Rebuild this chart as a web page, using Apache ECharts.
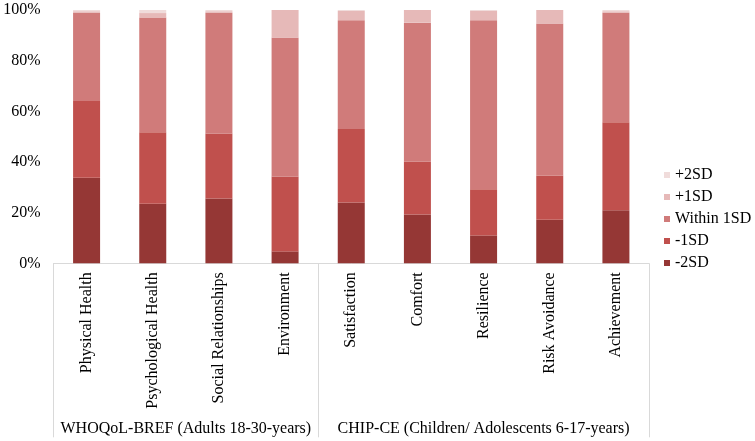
<!DOCTYPE html>
<html>
<head>
<meta charset="utf-8">
<script src="https://cdn.jsdelivr.net/npm/echarts@6/dist/echarts.min.js"></script>
<style>html,body{margin:0;padding:0;background:#fff}#c{width:755px;height:441px}</style>
</head>
<body>
<div id="c"></div>
<script>
const categories = ['Physical Health','Psychological Health','Social Relationships','Environment','Satisfaction','Comfort','Resilience','Risk Avoidance','Achievement'];
const groupNames = ['WHOQoL-BREF (Adults 18-30-years)','CHIP-CE (Children/ Adolescents 6-17-years)'];
const groupCenters = [2, 6.5];
const groupBounds = [0, 4, 9];
const minus2SD = [33.8, 23.5, 25.6, 4.7, 24.0, 19.3, 11.0, 17.2, 20.9];
const minus1SD = [30.3, 28.2, 25.6, 29.6, 29.0, 20.9, 18.2, 17.4, 34.8];
const within1SD = [34.8, 45.3, 47.7, 54.7, 43.0, 54.8, 66.8, 60.1, 43.2];
const plus1SD = [0.6, 1.8, 0.6, 11.0, 3.6, 5.0, 3.6, 5.3, 0.6];
const plus2SD = [0.5, 1.2, 0.5, 0, 0.4, 0, 0.4, 0, 0.5];
const yTicks = [0, 20, 40, 60, 80, 100];

const font = 'Liberation Serif';
const chart = echarts.init(document.getElementById('c'));
const seriesDefs = [
  ['-2SD', minus2SD, '#953735'],
  ['-1SD', minus1SD, '#C0504D'],
  ['Within 1SD', within1SD, '#D07B7A'],
  ['+1SD', plus1SD, '#E6B9B8'],
  ['+2SD', plus2SD, '#F0DCDB']
];
chart.setOption({
  animation: false,
  textStyle: {fontFamily: font},
  grid: {left: 53.5, right: 106, top: 10, bottom: 177.7},
  legend: {
    orient: 'vertical', left: 659, top: 162,
    data: ['+2SD','+1SD','Within 1SD','-1SD','-2SD'],
    icon: 'rect', itemWidth: 6, itemHeight: 6, itemGap: 6,
    textStyle: {fontFamily: font, fontSize: 16, color: '#000', lineHeight: 16}
  },
  xAxis: [{
    type: 'category', data: categories,
    axisLine: {lineStyle: {color: '#d9d9d9'}},
    axisTick: {show: false},
    axisLabel: {rotate: 90, margin: 9, fontFamily: font, fontSize: 16, color: '#000', interval: 0}
  }, {
    type: 'value', min: 0, max: 9, position: 'bottom',
    axisLine: {show: false},
    splitLine: {show: false},
    axisTick: {show: true, customValues: groupBounds, length: 174, lineStyle: {color: '#d9d9d9'}},
    axisLabel: {customValues: groupCenters, margin: 157, fontFamily: font, fontSize: 16, color: '#000',
      formatter: v => groupNames[groupCenters.indexOf(v)]}
  }],
  yAxis: {
    type: 'value', min: 0, max: 100, interval: 20,
    axisLine: {show: false}, axisTick: {show: false}, splitLine: {show: false},
    axisLabel: {formatter: '{value}%', margin: 13, fontFamily: font, fontSize: 16, color: '#000',
      customValues: yTicks}
  },
  series: seriesDefs.map(([name, data, color]) => ({
    name, type: 'bar', stack: 'all', data, barWidth: 27,
    itemStyle: {color}
  }))
});
</script>
</body>
</html>
